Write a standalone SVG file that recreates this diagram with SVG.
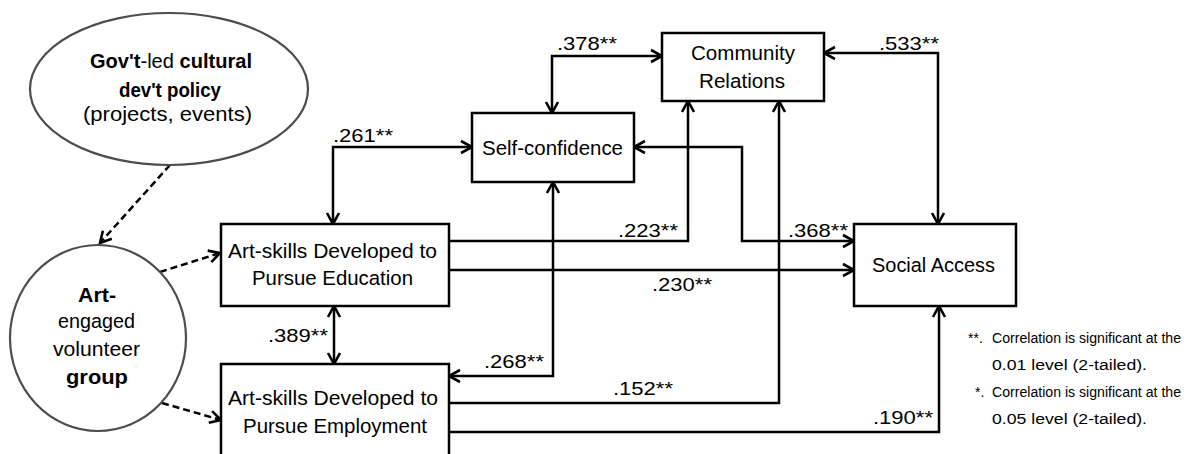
<svg xmlns="http://www.w3.org/2000/svg" width="1197" height="454" viewBox="0 0 1197 454">
  <defs>
    <style>
      .box { fill: #ffffff; stroke: #000000; stroke-width: 2.5; }
      .oval { fill: #ffffff; stroke: #4d4d4d; stroke-width: 2.2; }
      .lbl { font-family: "Liberation Sans", Arial, sans-serif; font-size: 20.5px; fill: #000000; }
      .val { font-family: "Liberation Sans", Arial, sans-serif; font-size: 19px; fill: #000000; }
      .note { font-family: "Liberation Sans", Arial, sans-serif; font-size: 14px; fill: #000000; }
      .b { font-weight: bold; }
      .link { fill: none; stroke: #000000; stroke-width: 2.5; }
      .dash { fill: none; stroke: #000000; stroke-width: 2.5; stroke-dasharray: 7 4; }
    </style>
    <marker id="arr" markerUnits="userSpaceOnUse" markerWidth="16" markerHeight="16" viewBox="0 0 16 16" refX="13" refY="8" orient="auto-start-reverse">
      <path d="M2,2 L13,8 L2,14" fill="none" stroke="#000000" stroke-width="2.6"/>
    </marker>
  </defs>

  <!-- connectors -->
  <g id="connectors">
    <path class="link" d="M552,113 V56 H662" marker-start="url(#arr)" marker-end="url(#arr)"/>
    <path class="link" d="M824,53 H938 V224" marker-start="url(#arr)" marker-end="url(#arr)"/>
    <path class="link" d="M333,224 V147 H472" marker-start="url(#arr)" marker-end="url(#arr)"/>
    <path class="link" d="M634,147 H742 V241 H854" marker-start="url(#arr)" marker-end="url(#arr)"/>
    <path class="link" d="M449,241 H688 V101" marker-end="url(#arr)"/>
    <path class="link" d="M449,270 H854" marker-end="url(#arr)"/>
    <path class="link" d="M553,182 V376 H449" marker-start="url(#arr)" marker-end="url(#arr)"/>
    <path class="link" d="M449,403 H779 V101" marker-end="url(#arr)"/>
    <path class="link" d="M449,432 H939 V306" marker-end="url(#arr)"/>
    <path class="link" d="M334,306 V364" marker-start="url(#arr)" marker-end="url(#arr)"/>

    <path class="dash" d="M170,165 L100,243" marker-end="url(#arr)"/>
    <path class="dash" d="M160,272 L220,253" marker-end="url(#arr)"/>
    <path class="dash" d="M162,403 L221,420" marker-end="url(#arr)"/>

    <text class="val" x="557" y="50" textLength="60" lengthAdjust="spacingAndGlyphs">.378**</text>
    <text class="val" x="879" y="50" textLength="60" lengthAdjust="spacingAndGlyphs">.533**</text>
    <text class="val" x="333" y="142" textLength="60" lengthAdjust="spacingAndGlyphs">.261**</text>
    <text class="val" x="788" y="237" textLength="60" lengthAdjust="spacingAndGlyphs">.368**</text>
    <text class="val" x="618" y="237" textLength="60" lengthAdjust="spacingAndGlyphs">.223**</text>
    <text class="val" x="652" y="291" textLength="60" lengthAdjust="spacingAndGlyphs">.230**</text>
    <text class="val" x="484" y="368" textLength="60" lengthAdjust="spacingAndGlyphs">.268**</text>
    <text class="val" x="613" y="395" textLength="60" lengthAdjust="spacingAndGlyphs">.152**</text>
    <text class="val" x="873" y="424" textLength="60" lengthAdjust="spacingAndGlyphs">.190**</text>
    <text class="val" x="268" y="342" textLength="60" lengthAdjust="spacingAndGlyphs">.389**</text>
  </g>

  <!-- government policy oval -->
  <g id="gov-policy">
    <ellipse class="oval" cx="169" cy="89" rx="139" ry="76"/>
    <text class="lbl" x="90" y="68" textLength="162" lengthAdjust="spacingAndGlyphs"><tspan class="b">Gov't</tspan>-led <tspan class="b">cultural</tspan></text>
    <text class="lbl b" x="119" y="97" textLength="102" lengthAdjust="spacingAndGlyphs">dev't policy</text>
    <text class="lbl" x="83" y="121" textLength="169" lengthAdjust="spacingAndGlyphs">(projects, events)</text>
  </g>

  <!-- volunteer group circle -->
  <g id="volunteer-group">
    <ellipse class="oval" cx="98" cy="338" rx="88" ry="93"/>
    <text class="lbl b" x="78" y="302" textLength="38" lengthAdjust="spacingAndGlyphs">Art-</text>
    <text class="lbl" x="58" y="328" textLength="77" lengthAdjust="spacingAndGlyphs">engaged</text>
    <text class="lbl" x="53" y="356" textLength="87" lengthAdjust="spacingAndGlyphs">volunteer</text>
    <text class="lbl b" x="66" y="384" textLength="62" lengthAdjust="spacingAndGlyphs">group</text>
  </g>

  <g id="community-relations">
    <rect class="box" x="662" y="33" width="162" height="68"/>
    <text class="lbl" x="691" y="60" textLength="104" lengthAdjust="spacingAndGlyphs">Community</text>
    <text class="lbl" x="699" y="88" textLength="86" lengthAdjust="spacingAndGlyphs">Relations</text>
  </g>

  <g id="self-confidence">
    <rect class="box" x="472" y="113" width="162" height="69"/>
    <text class="lbl" x="482" y="155" textLength="141" lengthAdjust="spacingAndGlyphs">Self-confidence</text>
  </g>

  <g id="art-education">
    <rect class="box" x="221" y="224" width="228" height="82"/>
    <text class="lbl" x="228" y="258" textLength="209" lengthAdjust="spacingAndGlyphs">Art-skills Developed to</text>
    <text class="lbl" x="252" y="285" textLength="161" lengthAdjust="spacingAndGlyphs">Pursue Education</text>
  </g>

  <g id="art-employment">
    <rect class="box" x="221" y="364" width="228" height="100"/>
    <text class="lbl" x="228" y="405" textLength="210" lengthAdjust="spacingAndGlyphs">Art-skills Developed to</text>
    <text class="lbl" x="243" y="433" textLength="184" lengthAdjust="spacingAndGlyphs">Pursue Employment</text>
  </g>

  <g id="social-access">
    <rect class="box" x="854" y="224" width="162" height="82"/>
    <text class="lbl" x="872" y="272" textLength="123" lengthAdjust="spacingAndGlyphs">Social Access</text>
  </g>

  <!-- significance notes -->
  <g id="notes">
    <text class="note" x="968" y="343">**.</text>
    <text class="note" x="992" y="343" textLength="189" lengthAdjust="spacingAndGlyphs">Correlation is significant at the</text>
    <text class="note" x="992" y="370" textLength="155" lengthAdjust="spacingAndGlyphs">0.01 level (2-tailed).</text>
    <text class="note" x="975" y="397">*.</text>
    <text class="note" x="992" y="397" textLength="189" lengthAdjust="spacingAndGlyphs">Correlation is significant at the</text>
    <text class="note" x="992" y="424" textLength="155" lengthAdjust="spacingAndGlyphs">0.05 level (2-tailed).</text>
  </g>
</svg>
